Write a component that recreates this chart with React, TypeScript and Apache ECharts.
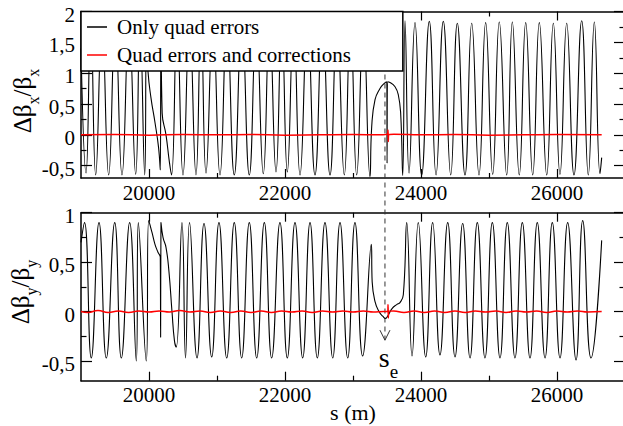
import React, { useEffect, useRef } from 'react';
import * as echarts from 'echarts';

const FONT = 'Liberation Serif';

// ---- axes ----
const X_MIN = 19000;
const X_MAX = 27000;
const X_MAJOR = [20000, 22000, 24000, 26000];
const X_MINOR = [21000, 23000, 25000];

const TOP_Y_MIN = -0.7;
const TOP_Y_MAX = 2;
const TOP_Y_MAJOR = [-0.5, 0, 0.5, 1, 1.5, 2];
const TOP_Y_MINOR = [-0.25, 0.25, 0.75, 1.25, 1.75];

const BOT_Y_MIN = -0.7;
const BOT_Y_MAX = 1;
const BOT_Y_MAJOR = [-0.5, 0, 0.5, 1];
const BOT_Y_MINOR = [-0.25, 0.25, 0.75];

const LEGEND_NAMES = ['Only quad errors', 'Quad errors and corrections'];

// position of the marked point s_e and arrow end (bottom panel value)
const SE_POS = 23470;
const ARROW_END = -0.29;

// ---- data: [s (m), value] ----
const TOP_ONLY_ERRORS: [number, number][] = [
  [19000, 1.4], [19074, -0.62], [19144, 1.8], [19216, -0.65], [19309, 1.8], [19407, -0.65],
  [19504, 1.8], [19603, -0.65], [19706, 1.8], [19804, -0.64], [19868, 1.8], [19937, -0.65],
  [19963, 1.6], [19985, 1.03], [20029, 0.6], [20088, 0.2], [20140, -0.2], [20166, -0.57],
  [20176, 1.6], [20194, 0.35], [20250, 0.0], [20301, -0.45], [20331, -0.65], [20412, 1.8],
  [20500, -0.65], [20596, 1.8], [20691, -0.65], [20765, 1.8], [20838, -0.62], [20941, 1.8],
  [21044, -0.65], [21147, 1.8], [21254, -0.65], [21365, 1.8], [21475, -0.65], [21578, 1.8],
  [21681, -0.63], [21773, 1.8], [21868, -0.6], [21952, 1.8], [22034, -0.6], [22127, 1.8],
  [22221, -0.65], [22331, 1.8], [22441, -0.65], [22551, 1.8], [22662, -0.65], [22765, 1.8],
  [22872, -0.65], [22963, 1.8], [23054, -0.65], [23152, 1.8], [23250, -0.68], [23275, 0.13],
  [23324, 0.57], [23397, 0.75], [23456, 0.83], [23497, 0.86], [23501, -0.46], [23507, 0.86],
  [23544, 0.85], [23618, 0.78], [23666, 0.65], [23701, 0.35], [23731, -0.66], [23765, 1.85],
  [23824, -0.62], [23912, 1.82], [24010, -0.65], [24122, 1.84], [24221, -0.65], [24328, 1.84],
  [24437, -0.65], [24534, 1.81], [24647, -0.65], [24746, 1.81], [24853, -0.65], [24951, 1.82],
  [25054, -0.64], [25151, 1.83], [25260, -0.65], [25343, 1.83], [25445, -0.65], [25540, 1.82],
  [25643, -0.65], [25740, 1.82], [25849, -0.65], [25946, 1.81], [26044, -0.64], [26143, 1.81],
  [26250, -0.65], [26363, 1.85], [26460, -0.65], [26549, 1.83], [26632, -0.63], [26657, -0.37],
];

const TOP_WITH_CORR: [number, number][] = [
  [19000, 0.0], [19500, 0.005], [20000, -0.005], [20500, 0.005], [21000, 0.0], [21500, 0.005],
  [22000, -0.005], [22500, 0.0], [23000, 0.005], [23400, 0.0], [23505, 0.01], [23515, 0.08],
  [23519, -0.11], [23524, 0.0], [23600, 0.01], [24000, 0.0], [24500, 0.005], [25000, -0.005],
  [25500, 0.0], [26000, 0.005], [26657, 0.0],
];

const BOT_ONLY_ERRORS: [number, number][] = [
  [19000, 0.7], [19051, 0.9], [19151, -0.47], [19265, 0.9], [19372, -0.47], [19496, 0.9],
  [19593, -0.47], [19716, 0.9], [19813, -0.5], [19843, 0.9], [19960, -0.5], [19996, 0.92],
  [20044, 0.8], [20088, 0.68], [20132, 0.6], [20166, 0.55], [20171, -0.26], [20176, 0.9],
  [20206, 0.75], [20250, 0.65], [20294, 0.4], [20338, 0.0], [20375, -0.3], [20401, -0.36],
  [20485, 0.9], [20537, -0.47], [20596, 0.9], [20706, -0.47], [20809, 0.89], [20922, -0.46],
  [21029, 0.9], [21143, -0.47], [21254, 0.9], [21363, -0.47], [21475, 0.9], [21584, -0.47],
  [21696, 0.9], [21804, -0.47], [21926, 0.9], [22034, -0.47], [22147, 0.9], [22260, -0.47],
  [22368, 0.9], [22475, -0.47], [22588, 0.9], [22702, -0.47], [22809, 0.9], [22922, -0.47],
  [23029, 0.9], [23142, -0.45], [23269, 0.68], [23282, 0.3], [23324, 0.1], [23382, 0.0],
  [23441, -0.05], [23478, -0.07], [23515, -0.04], [23574, 0.03], [23643, 0.07], [23691, 0.09],
  [23740, 0.17], [23790, 0.9], [23868, -0.45], [23960, 0.9], [24069, -0.46], [24172, 0.9],
  [24279, -0.44], [24393, 0.9], [24500, -0.46], [24613, 0.89], [24721, -0.47], [24828, 0.9],
  [24941, -0.47], [25049, 0.9], [25162, -0.47], [25269, 0.9], [25382, -0.47], [25490, 0.9],
  [25603, -0.47], [25710, 0.9], [25824, -0.47], [25931, 0.9], [26044, -0.47], [26157, 0.9],
  [26280, -0.49], [26378, 0.92], [26500, -0.47], [26657, 0.72],
];

const BOT_WITH_CORR: [number, number][] = [
  [19000, 0.0], [19100, -0.01], [19250, 0.01], [19400, -0.01], [19550, 0.005], [19700, -0.01],
  [19850, 0.005], [20000, -0.005], [20150, 0.005], [20300, -0.005], [20450, 0.01], [20600, -0.005],
  [20750, 0.005], [20900, -0.01], [21050, 0.005], [21200, -0.01], [21350, 0.005], [21500, -0.01],
  [21650, 0.005], [21800, -0.01], [21950, 0.005], [22100, -0.005], [22250, 0.005], [22400, -0.01],
  [22550, 0.005], [22700, -0.005], [22850, 0.005], [23000, -0.005], [23150, 0.005], [23300, -0.005],
  [23450, 0.0], [23512, 0.0], [23515, 0.07], [23520, -0.066], [23524, 0.0], [23600, 0.005],
  [23750, -0.01], [23900, 0.005], [24050, -0.01], [24200, 0.005], [24350, -0.01], [24500, 0.005],
  [24650, -0.01], [24800, 0.005], [24950, -0.005], [25100, 0.005], [25250, -0.01], [25400, 0.005],
  [25550, -0.005], [25700, 0.005], [25850, -0.01], [26000, 0.005], [26150, -0.005], [26300, 0.005],
  [26450, -0.005], [26657, 0.0],
];

const fmt = (v: number) => String(v).replace('.', ',');

function xAxes(gridIndex: number) {
  const common = {
    type: 'value', gridIndex, min: X_MIN, max: X_MAX,
    splitLine: { show: false },
    axisLine: { onZero: false, show: true, lineStyle: { color: '#000', width: 1.5 } },
  };
  const tickStyle = { color: '#000', width: 1.2 };
  return [
    { ...common, position: 'bottom',
      axisTick: { show: true, inside: true, length: 9, customValues: X_MAJOR, lineStyle: tickStyle },
      axisLabel: { show: true, customValues: X_MAJOR, margin: 4, color: '#000', fontFamily: FONT, fontSize: 21,
        formatter: (v: number) => String(v) } },
    { ...common, position: 'bottom', axisLine: { onZero: false, show: false },
      axisTick: { show: true, inside: true, length: 5, customValues: X_MINOR, lineStyle: tickStyle },
      axisLabel: { show: false } },
    { ...common, position: 'top',
      axisTick: { show: true, inside: true, length: 9, customValues: X_MAJOR, lineStyle: tickStyle },
      axisLabel: { show: false } },
    { ...common, position: 'top', axisLine: { onZero: false, show: false },
      axisTick: { show: true, inside: true, length: 5, customValues: X_MINOR, lineStyle: tickStyle },
      axisLabel: { show: false } },
  ];
}

function yAxes(gridIndex: number, min: number, max: number, major: number[], minor: number[]) {
  const common = {
    type: 'value', gridIndex, min, max,
    splitLine: { show: false },
    axisLine: { onZero: false, show: true, lineStyle: { color: '#000', width: 1.5 } },
  };
  const tickStyle = { color: '#000', width: 1.2 };
  return [
    { ...common, position: 'left',
      axisTick: { show: true, inside: true, length: 11, customValues: major, lineStyle: tickStyle },
      axisLabel: { show: true, customValues: major, margin: 6, color: '#000', fontFamily: FONT, fontSize: 21,
        formatter: (v: number) => '{t|' + fmt(v) + '}',
        rich: { t: { fontFamily: FONT, fontSize: 21, color: '#000', padding: [6, 0, 0, 0] } } } },
    { ...common, position: 'left', axisLine: { onZero: false, show: false },
      axisTick: { show: true, inside: true, length: 5.5, customValues: minor, lineStyle: tickStyle },
      axisLabel: { show: false } },
    { ...common, position: 'right',
      axisTick: { show: true, inside: true, length: 11, customValues: major, lineStyle: tickStyle },
      axisLabel: { show: false } },
    { ...common, position: 'right', axisLine: { onZero: false, show: false },
      axisTick: { show: true, inside: true, length: 5.5, customValues: minor, lineStyle: tickStyle },
      axisLabel: { show: false } },
  ];
}

function lineSeries(name: string, data: [number, number][], axisIndex: number, color: string, width: number, z: number) {
  return {
    type: 'line', name, data, xAxisIndex: axisIndex, yAxisIndex: axisIndex,
    symbol: 'none', showSymbol: false, smooth: 0.5, clip: true, silent: true, z,
    lineStyle: { color, width }, itemStyle: { color },
    emphasis: { disabled: true },
  };
}

export default function App() {
  const ref = useRef<HTMLDivElement>(null);
  useEffect(() => {
    if (!ref.current) return;
    const chart = echarts.init(ref.current, null, { renderer: 'svg' });
    const option: any = {
      animation: false,
      backgroundColor: '#fff',
      textStyle: { fontFamily: FONT },
      grid: [
        { left: 81, top: 11.5, width: 544, height: 166.5, outerBoundsMode: 'none', containLabel: false },
        { left: 81, top: 212.7, width: 544, height: 168, outerBoundsMode: 'none', containLabel: false },
      ],
      xAxis: [...xAxes(0), ...xAxes(1)],
      yAxis: [
        ...yAxes(0, TOP_Y_MIN, TOP_Y_MAX, TOP_Y_MAJOR, TOP_Y_MINOR),
        ...yAxes(1, BOT_Y_MIN, BOT_Y_MAX, BOT_Y_MAJOR, BOT_Y_MINOR),
      ],
      legend: {
        show: true, orient: 'vertical', left: 81, top: 11.5,
        data: LEGEND_NAMES.map((n) => ({ name: n, icon: 'rect' })),
        itemWidth: 20, itemHeight: 1.5, itemGap: 4,
        padding: [3.5, 52, 4, 6],
        backgroundColor: '#fff', borderColor: '#000', borderWidth: 1.5, borderRadius: 0,
        selectedMode: false,
        textStyle: { fontFamily: FONT, fontSize: 21, color: '#000', lineHeight: 24, padding: [0, 0, 0, 5] },
      },
      series: [
        lineSeries(LEGEND_NAMES[0], TOP_ONLY_ERRORS, 0, '#000', 1.1, 2),
        lineSeries(LEGEND_NAMES[1], TOP_WITH_CORR, 0, '#ff0000', 1.5, 3),
        lineSeries(LEGEND_NAMES[0], BOT_ONLY_ERRORS, 4, '#000', 1.1, 2),
        lineSeries(LEGEND_NAMES[1], BOT_WITH_CORR, 4, '#ff0000', 1.5, 3),
      ],
    };
    chart.setOption(option);

    const top = chart.convertToPixel({ seriesIndex: 0 }, [SE_POS, TOP_Y_MAX]) as number[];
    const tip = chart.convertToPixel({ seriesIndex: 2 }, [SE_POS, ARROW_END]) as number[];
    const gcol = '#333';
    chart.setOption({
      graphic: [
        { type: 'line', z: 1, silent: true,
          shape: { x1: top[0], y1: top[1], x2: tip[0], y2: tip[1] },
          style: { stroke: gcol, lineWidth: 1, lineDash: [5, 4] } },
        { type: 'polyline', z: 1, silent: true,
          shape: { points: [[tip[0] - 5, tip[1] - 10], [tip[0], tip[1]], [tip[0] + 5, tip[1] - 10]] },
          style: { stroke: gcol, lineWidth: 1, fill: null } },
        { type: 'text', silent: true, x: tip[0] - 0.7, y: tip[1] + 17,
          style: { text: 's', fontFamily: FONT, fontSize: 28, fill: '#000', align: 'center', verticalAlign: 'middle' } },
        { type: 'text', silent: true, x: tip[0] + 9, y: tip[1] + 31,
          style: { text: 'e', fontFamily: FONT, fontSize: 19, fill: '#000', align: 'center', verticalAlign: 'middle' } },
        { type: 'text', silent: true, x: 353, y: 412,
          style: { text: 's (m)', fontFamily: FONT, fontSize: 22, fill: '#000', align: 'center', verticalAlign: 'middle' } },
        { type: 'text', silent: true, x: 22.5, y: 101, rotation: Math.PI / 2,
          style: { text: '{m|Δβ}{s|x}{m|/β}{s|x}', align: 'center', verticalAlign: 'middle',
            rich: {
              m: { fontFamily: FONT, fontSize: 25, fill: '#000' },
              s: { fontFamily: FONT, fontSize: 16, fill: '#000', padding: [21, 0, 0, 0] },
            } } },
        { type: 'text', silent: true, x: 20.5, y: 292, rotation: Math.PI / 2,
          style: { text: '{m|Δβ}{s|y}{m|/β}{s|y}', align: 'center', verticalAlign: 'middle',
            rich: {
              m: { fontFamily: FONT, fontSize: 25, fill: '#000' },
              s: { fontFamily: FONT, fontSize: 16, fill: '#000', padding: [21, 0, 0, 0] },
            } } },
      ],
    });
    return () => chart.dispose();
  }, []);
  return <div ref={ref} style={{ position: 'fixed', left: 0, top: 0, width: 623, height: 426 }} />;
}
